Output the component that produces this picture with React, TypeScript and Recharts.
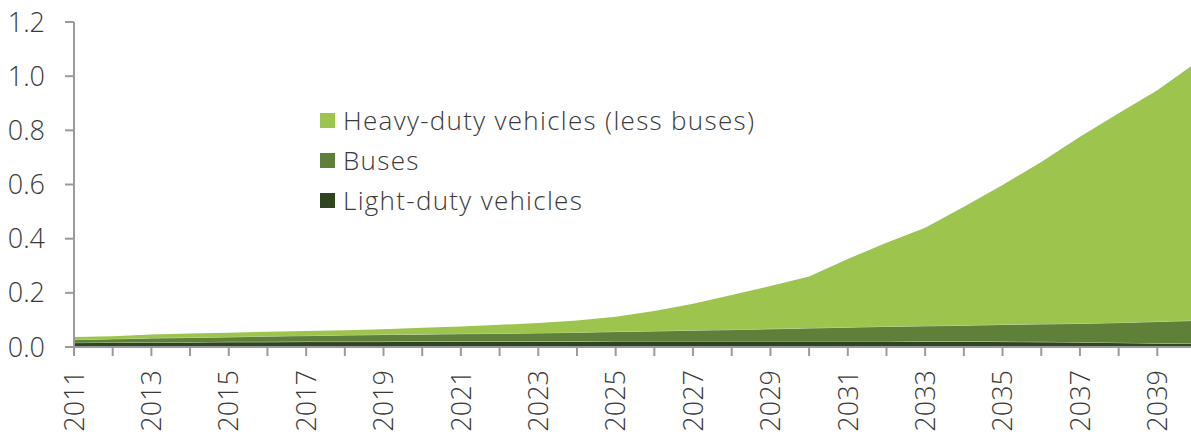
import { AreaChart, Area, XAxis, YAxis, Legend } from 'recharts';

const years = [
  2011, 2012, 2013, 2014, 2015, 2016, 2017, 2018, 2019, 2020,
  2021, 2022, 2023, 2024, 2025, 2026, 2027, 2028, 2029, 2030,
  2031, 2032, 2033, 2034, 2035, 2036, 2037, 2038, 2039, 2040,
];

const lightDuty = [
  0.016, 0.017, 0.018, 0.018, 0.019, 0.019, 0.02, 0.02, 0.02, 0.021,
  0.021, 0.021, 0.021, 0.021, 0.022, 0.022, 0.022, 0.022, 0.022, 0.022,
  0.022, 0.022, 0.021, 0.021, 0.02, 0.019, 0.018, 0.016, 0.014, 0.013,
];

const buses = [
  0.011, 0.013, 0.015, 0.017, 0.018, 0.021, 0.022, 0.024, 0.026, 0.026,
  0.028, 0.029, 0.031, 0.033, 0.035, 0.037, 0.04, 0.042, 0.045, 0.048,
  0.051, 0.054, 0.057, 0.059, 0.063, 0.066, 0.069, 0.074, 0.08, 0.085,
];

const heavyDuty = [
  0.01, 0.01, 0.013, 0.015, 0.016, 0.016, 0.017, 0.018, 0.02, 0.024,
  0.027, 0.032, 0.037, 0.044, 0.055, 0.074, 0.098, 0.128, 0.158, 0.19,
  0.252, 0.309, 0.362, 0.438, 0.515, 0.598, 0.689, 0.773, 0.854, 0.952,
];

const yTicks = [0, 0.2, 0.4, 0.6, 0.8, 1.0, 1.2];

const data = years.map((year, i) => ({
  year,
  light: lightDuty[i],
  buses: buses[i],
  heavy: heavyDuty[i],
}));

const FONT = '"Open Sans", sans-serif';
const TEXT = '#3a3a3a';
const AXIS = '#9a9a9a';

const legendItems = [
  { label: 'Heavy-duty vehicles (less buses)', color: '#9dc44d' },
  { label: 'Buses', color: '#5e8038' },
  { label: 'Light-duty vehicles', color: '#2f4421' },
];

// 奇数年だけラベルを出す（目盛り線は毎年）
const YearTick = (props: any) => {
  const { x, y, payload } = props;
  if (payload.value % 2 === 0) return null;
  return (
    <g transform={`translate(${x},${y})`}>
      <text
        transform="rotate(-90)"
        textAnchor="end"
        dy="0.36em"
        fill={TEXT}
        fontFamily={FONT}
        fontWeight={300}
        fontSize={27}
      >
        {payload.value}
      </text>
    </g>
  );
};

const LegendBox = () => (
  <div style={{ fontFamily: FONT, fontWeight: 300, fontSize: 26, letterSpacing: 1.3, color: TEXT }}>
    {legendItems.map((item) => (
      <div key={item.label} style={{ display: 'flex', alignItems: 'center', height: 40, whiteSpace: 'nowrap' }}>
        <span style={{ width: 15, height: 15, background: item.color, marginRight: 8, flexShrink: 0 }} />
        <span>{item.label}</span>
      </div>
    ))}
  </div>
);

export default function App() {
  return (
    <div style={{ position: 'absolute', left: 0, top: 0, width: 1191, height: 439, overflow: 'hidden', background: '#fff' }}>
      <AreaChart width={1200} height={439} data={data} margin={{ top: 22, right: 4, left: 0, bottom: 0 }}>
        <XAxis
          dataKey="year"
          type="number"
          domain={[2011, 2040]}
          ticks={years}
          interval={0}
          height={92}
          tickSize={9}
          tickMargin={14}
          tick={<YearTick />}
          axisLine={{ stroke: AXIS, strokeWidth: 2 }}
          tickLine={{ stroke: AXIS, strokeWidth: 2 }}
        />
        <YAxis
          width={74}
          domain={[0, 1.2]}
          ticks={yTicks}
          tickSize={9}
          tickMargin={20}
          tickFormatter={(v: number) => v.toFixed(1)}
          tick={{ fill: TEXT, fontFamily: FONT, fontWeight: 300, fontSize: 27 }}
          axisLine={{ stroke: AXIS, strokeWidth: 2 }}
          tickLine={{ stroke: AXIS, strokeWidth: 2 }}
        />
        <Legend
          layout="vertical"
          verticalAlign="middle"
          align="center"
          content={<LegendBox />}
          wrapperStyle={{ left: 320, top: 100, width: 500 }}
        />
        <Area
          type="linear"
          dataKey="light"
          name="Light-duty vehicles"
          stackId="a"
          fill="#2f4421"
          fillOpacity={1}
          stroke="#c9d9b0"
          strokeWidth={1}
          isAnimationActive={false}
        />
        <Area
          type="linear"
          dataKey="buses"
          name="Buses"
          stackId="a"
          fill="#5e8038"
          fillOpacity={1}
          stroke="#c9d9b0"
          strokeWidth={1}
          isAnimationActive={false}
        />
        <Area
          type="linear"
          dataKey="heavy"
          name="Heavy-duty vehicles (less buses)"
          stackId="a"
          fill="#9dc44d"
          fillOpacity={1}
          stroke="none"
          isAnimationActive={false}
        />
      </AreaChart>
    </div>
  );
}
